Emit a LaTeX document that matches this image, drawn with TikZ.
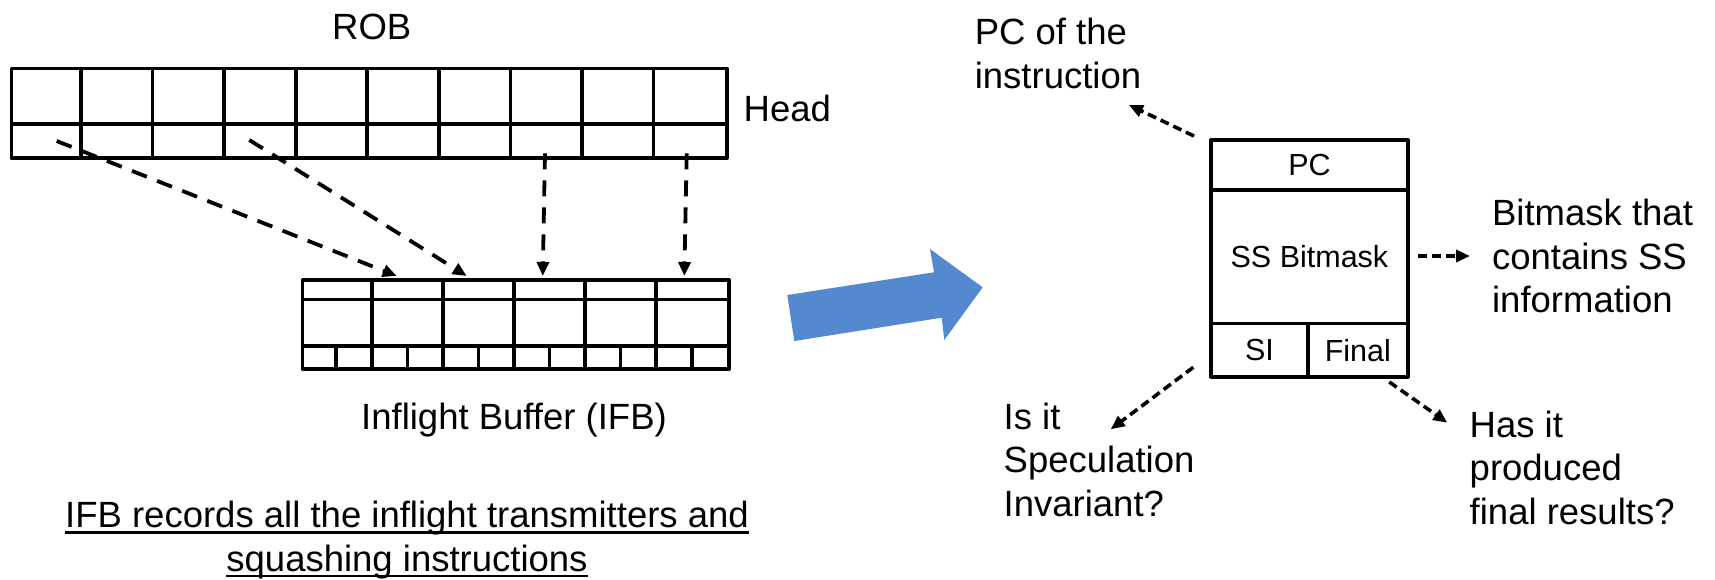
\documentclass[tikz,border=0pt]{standalone}
\usepackage{fontspec}
\setmainfont{Liberation Sans}
\usetikzlibrary{arrows.meta}
\definecolor{flowblue}{RGB}{84,136,207}
% underline at a fixed offset below the baseline (runs through descenders)
\newcommand\ulinetext[1]{\setbox0\hbox{#1}\rlap{\vrule height -1.9pt depth 3.2pt width \wd0}\box0}

\begin{document}
\begin{tikzpicture}[x=0.5pt,y=-0.5pt,
  gridline/.style={line width=1.8pt, line join=round},
  frame/.style={draw, gridline, inner sep=0pt, anchor=north west},
  lbl/.style={font=\fontsize{18.25}{21.75}\selectfont, inner sep=0pt, align=left, anchor=base west},
  cellbox/.style={draw, line width=1.8pt, line join=round, inner sep=0pt, anchor=north west,
    font=\fontsize{15.25}{18}\selectfont},
  bigdash/.style={line width=1.9pt, dash pattern=on 8pt off 5.5pt,
    -{Triangle[length=7pt,width=6pt]}},
  smalldash/.style={line width=1.8pt, dash pattern=on 4.5pt off 2.5pt,
    -{Triangle[length=7pt,width=6pt]}}
]
\useasboundingbox (0,0) rectangle (1715,579);

% ---------- ROB: 10 entries, two rows ----------
\node[lbl, anchor=base] (roblabel) at (371.7,39.3) {ROB};
\node[frame, minimum width=357.75pt, minimum height=44.8pt] (rob) at (9.5,66.7) {};
\draw[gridline] (9.5,124) -- (725,124);
\foreach \i in {1,...,9}
  \draw[gridline] ({9.5+71.55*\i},66.7) -- ({9.5+71.55*\i},156.3);
\node[lbl] (head) at (743.3,121.7) {Head};

% ---------- Inflight Buffer: 6 entries ----------
\node[frame, minimum width=213.3pt, minimum height=44.5pt] (ifb) at (300.7,278.3) {};
\draw[gridline] (300.7,299.3) -- (727.3,299.3);
\draw[gridline] (300.7,345.7) -- (727.3,345.7);
\foreach \i in {1,...,5}
  \draw[gridline] ({300.7+71.1*\i},278.3) -- ({300.7+71.1*\i},367.3);
\foreach \i in {1,...,6}
  \draw[gridline] ({300.7+71.1*(\i-0.5)},345.7) -- ({300.7+71.1*(\i-0.5)},367.3);
\node[lbl, anchor=base] (ifblabel) at (514,429.3) {Inflight Buffer (IFB)};
% multi-line labels: the base anchor sits on the last line
\node[lbl, align=center, anchor=base] (note) at (407,571)
  {\ulinetext{IFB records all the inflight transmitters and}\\\ulinetext{squashing instructions}};

% ROB entries copied into the IFB
\coordinate (s1) at (56.7,141);   \coordinate (t1) at (396.7,276);
\coordinate (s2) at (249.3,140);  \coordinate (t2) at (466.7,276);
\coordinate (s3) at (545,153.3);  \coordinate (t3) at (542.7,276);
\coordinate (s4) at (686.7,153.3);\coordinate (t4) at (684.3,276);
\draw[bigdash] (s1) -- (t1);
\draw[bigdash] (s2) -- (t2);
\draw[bigdash] (s3) -- (t3);
\draw[bigdash] (s4) -- (t4);

% ---------- block arrow ----------
\fill[flowblue] (787.3,295) -- (934,272.3) -- (930,249) -- (982.7,287.3)
  -- (944.3,340) -- (941.7,317.7) -- (794.3,341) -- cycle;

% ---------- one IFB entry ----------
\node[cellbox, minimum width=98.35pt, minimum height=25pt] (pc) at (1209.3,138.3) {PC};
\node[cellbox, minimum width=98.35pt, minimum height=66.7pt] (ss) at (1209.3,188.3) {SS Bitmask};
\node[cellbox, minimum width=48.35pt, minimum height=26.65pt] (si) at (1209.3,321.7) {SI};
\node[cellbox, minimum width=50pt, minimum height=26.65pt] (final) at (1306,321.7) {Final};

\node[lbl] (pcnote) at (974.4,88) {PC of the\\instruction};
\node[lbl] (ssnote) at (1491.7,312.5) {Bitmask that\\contains SS\\information};
\node[lbl] (sinote) at (1003.3,516) {Is it\\Speculation\\Invariant?};
\node[lbl] (finalnote) at (1469.3,524) {Has it\\produced\\final results?};

\coordinate (pcfrom) at (1194,136);     \coordinate (pcto) at (1129,105);
\coordinate (ssfrom) at (1418.3,256);   \coordinate (ssto) at (1470,256);
\coordinate (sifrom) at (1193.3,367.3); \coordinate (sito) at (1110.7,429.3);
\coordinate (finfrom) at (1389.3,382);  \coordinate (finto) at (1447.3,422.7);
\draw[smalldash] (pcfrom) -- (pcto);
\draw[smalldash] (ssfrom) -- (ssto);
\draw[smalldash] (sifrom) -- (sito);
\draw[smalldash] (finfrom) -- (finto);
\end{tikzpicture}
\end{document}
